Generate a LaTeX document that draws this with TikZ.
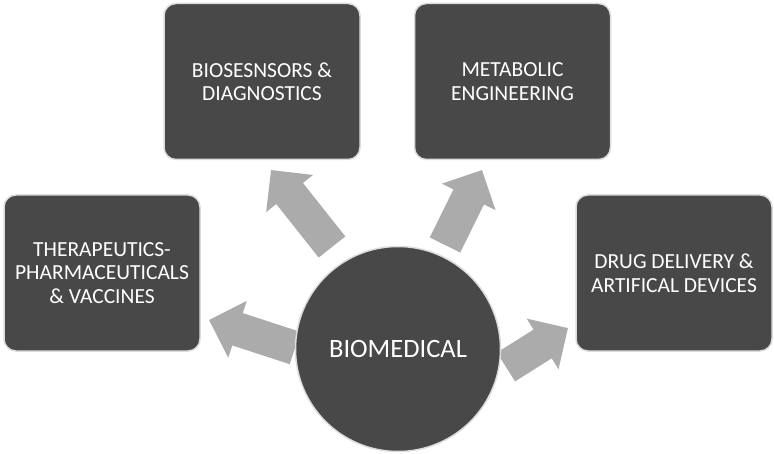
\documentclass[tikz,border=0pt]{standalone}
\usepackage{fontspec}
\setmainfont{Carlito}
\usepackage{tikz}
\usetikzlibrary{arrows.meta}

\definecolor{boxgray}{HTML}{484848}
\definecolor{arrowgray}{HTML}{ABABAB}
\definecolor{rimgray}{HTML}{DCDCDC}

\tikzset{
  area/.style={draw=rimgray, line width=1.5pt, fill=boxgray, rounded corners=12pt,
    minimum width=196pt, minimum height=156pt, text=white, align=center,
    font=\fontsize{21.5}{23.5}\selectfont},
  hubdisc/.style={circle, draw=rimgray, line width=1.5pt, fill=boxgray,
    minimum size=205pt, text=white, font=\fontsize{26.5}{30}\selectfont},
  fatarrow/.style={arrowgray, line width=34pt, -{Triangle[width=58pt,length=30pt]}}
}

\begin{document}
\begin{tikzpicture}[x=1pt,y=1pt]
	\useasboundingbox (0,0) rectangle (774,453);

	% application areas
	\node[area] (bio)  at (262,371.5) {BIOSESNSORS \&\\DIAGNOSTICS};
	\node[area] (meta) at (512.5,371.5) {METABOLIC\\ENGINEERING};
	\node[area] (ther) at (102,180) {THERAPEUTICS-\\PHARMACEUTICALS\\\& VACCINES};
	\node[area] (drug) at (674,180) {DRUG DELIVERY \&\\ARTIFICAL DEVICES};

	% arrow ends
	\coordinate (bioTail)  at (332,206);
	\coordinate (bioTip)   at (271,283);
	\coordinate (metaTail) at (445,208);
	\coordinate (metaTip)  at (482,283);
	\coordinate (therTail) at (295,105);
	\coordinate (therTip)  at (209,133);
	\coordinate (drugTail) at (506,86);
	\coordinate (drugTip)  at (568,125);

	\draw[fatarrow] (bioTail) -- (bioTip);
	\draw[fatarrow] (metaTail) -- (metaTip);
	\draw[fatarrow] (therTail) -- (therTip);
	\draw[fatarrow] (drugTail) -- (drugTip);

	% centre
	\node[hubdisc] (hub) at (398,104) {BIOMEDICAL};
\end{tikzpicture}
\end{document}
